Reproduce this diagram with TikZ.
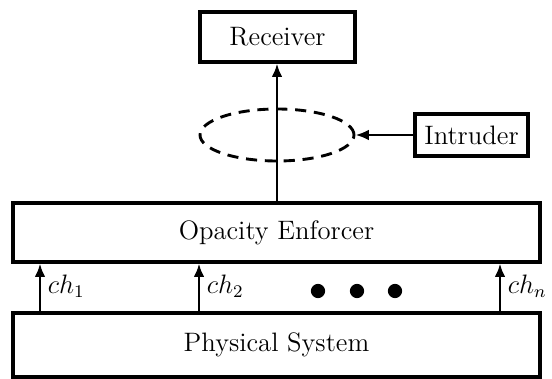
\documentclass[tikz,border=0pt]{standalone}
\usepackage{amsmath,amssymb}
\usetikzlibrary{arrows.meta}
\usetikzlibrary{shapes.geometric}
\tikzset{blk/.style={shape=rectangle, draw=black, line width=1.4pt},
    sig/.style={-{Latex[length=6pt,width=4.8pt]}, line width=1.3pt}}

\begin{document}
\begin{tikzpicture}[x=0.45pt,y=-0.45pt,font=\large]
                        \useasboundingbox (0,0) rectangle (552,379);

                        \node[blk, minimum width=69.75pt, minimum height=22.5pt] (rec) at (277.5,37) {Receiver};
                        \node[blk, minimum width=237.15pt, minimum height=26.55pt] (enf) at (276.5,232.5) {Opacity Enforcer};
                        \node[blk, minimum width=237.15pt, minimum height=28.8pt] (phys) at (276.5,345) {Physical System};
                        \node[blk, minimum width=50.85pt, minimum height=18.9pt] (intr) at (471.5,135) {Intruder};
                        \node[shape=ellipse, draw=black, line width=1.3pt, dash pattern=on 5pt off 3.5pt, minimum width=69.3pt, minimum height=23.4pt] (eav) at (277,135) {};

                        % channels from the plant up to the enforcer
                        \coordinate (c1) at (40,286);
                        \coordinate (c2) at (199,286);
                        \coordinate (cn) at (500,286);
                        \draw[sig] (c1 |- phys.north) -- (c1 |- enf.south);
                        \draw[sig] (c2 |- phys.north) -- (c2 |- enf.south);
                        \draw[sig] (cn |- phys.north) -- (cn |- enf.south);
                        \node[right] (l1) at (c1) {$ch_1$};
                        \node[right] (l2) at (c2) {$ch_2$};
                        \node[right] (ln) at (cn) {$ch_n$};
                        \fill (318,291) circle (3.2pt) (357,291) circle (3.2pt) (395,291) circle (3.2pt);

                        \draw[sig] (enf.north -| eav.center) -- (rec.south -| eav.center);
                        \draw[sig] (intr.west) -- (eav.east);

                    \end{tikzpicture}
\end{document}
